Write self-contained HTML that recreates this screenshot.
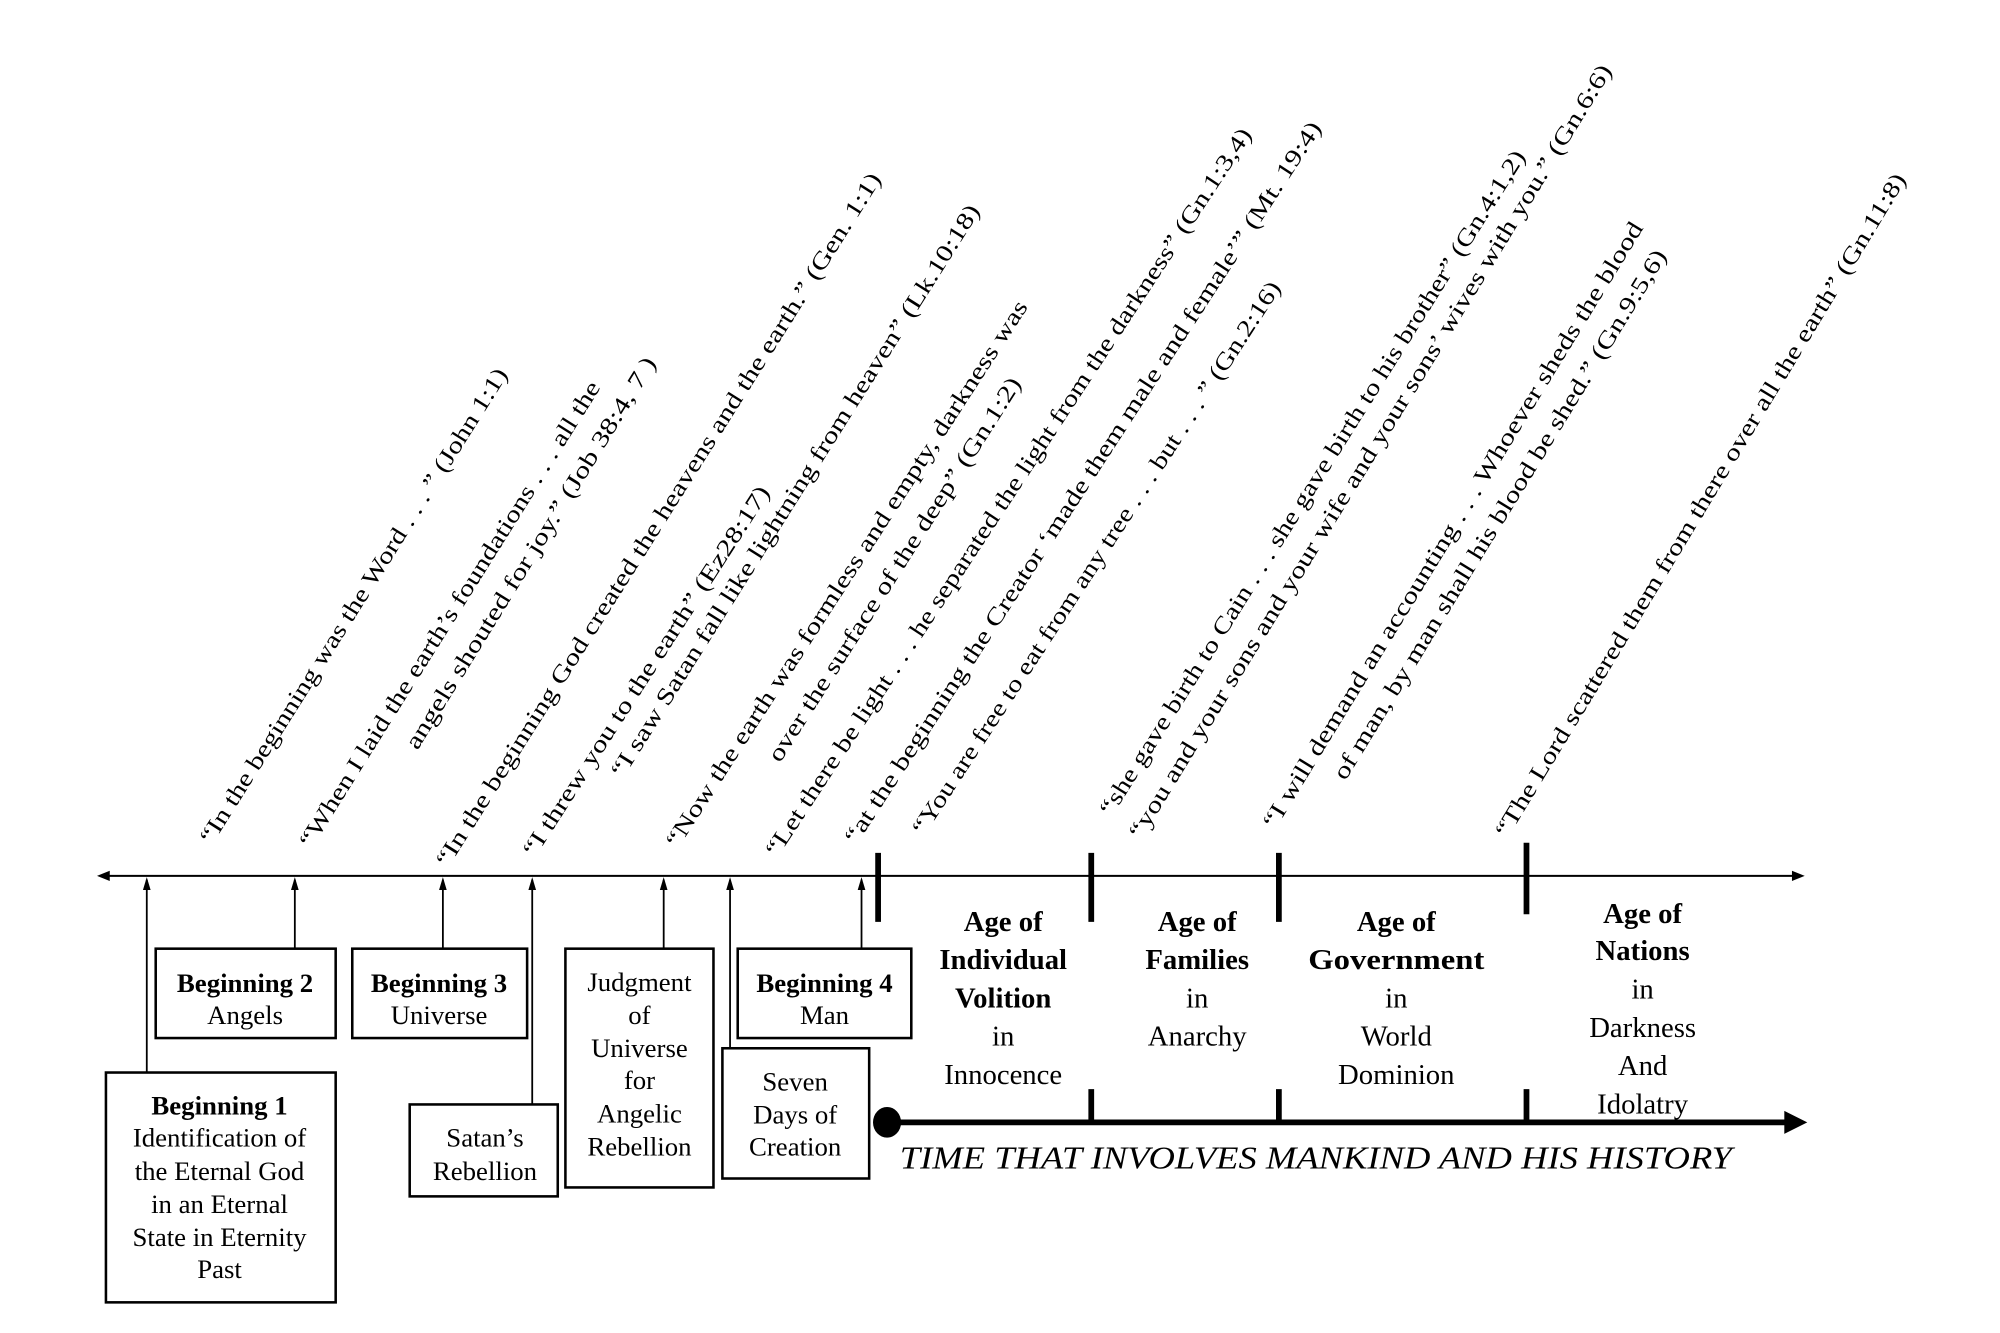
<!DOCTYPE html>
<html><head><meta charset="utf-8"><style>
html,body{margin:0;padding:0;background:#fff;}
svg{display:block;}
text{font-family:"Liberation Serif",serif;fill:#000;}
.q{font-size:18.5px;}
.b{font-size:21px;}
.a{font-size:22.5px;}
</style></head><body>
<svg width="2000" height="1333" viewBox="0 0 1567 1044" preserveAspectRatio="none" xmlns="http://www.w3.org/2000/svg">
<!-- main line -->
<line x1="80" y1="686" x2="1410" y2="686" stroke="#000" stroke-width="1.6"/>
<path d="M76,686 L86,682 L86,690 Z" fill="#000"/>
<path d="M1414,686 L1404,682 L1404,690 Z" fill="#000"/>
<!-- up arrows -->
<g stroke="#000" stroke-width="1.4" fill="none">
<line x1="115" y1="840" x2="115" y2="689"/>
<line x1="231" y1="743" x2="231" y2="689"/>
<line x1="347" y1="743" x2="347" y2="689"/>
<line x1="417" y1="865" x2="417" y2="689"/>
<line x1="520" y1="743" x2="520" y2="689"/>
<line x1="572" y1="821" x2="572" y2="689"/>
<line x1="675" y1="743" x2="675" y2="689"/>
</g>
<g fill="#000">
<path d="M115,687 L112,697 L118,697Z"/><path d="M231,687 L228,697 L234,697Z"/>
<path d="M347,687 L344,697 L350,697Z"/><path d="M417,687 L414,697 L420,697Z"/>
<path d="M520,687 L517,697 L523,697Z"/><path d="M572,687 L569,697 L575,697Z"/>
<path d="M675,687 L672,697 L678,697Z"/>
</g>
<!-- thick ticks -->
<g stroke="#000" stroke-width="4.5">
<line x1="688" y1="668" x2="688" y2="722"/>
<line x1="855" y1="668" x2="855" y2="722"/>
<line x1="1002" y1="668" x2="1002" y2="722"/>
<line x1="1196" y1="660" x2="1196" y2="716"/>
<line x1="855" y1="853" x2="855" y2="880"/>
<line x1="1002" y1="853" x2="1002" y2="880"/>
<line x1="1196" y1="853" x2="1196" y2="880"/>
</g>
<!-- bottom line -->
<line x1="694" y1="879" x2="1400" y2="879" stroke="#000" stroke-width="4.5"/>
<path d="M1416,879 L1398,870 L1398,888 Z" fill="#000"/>
<ellipse cx="695" cy="879" rx="11" ry="12" fill="#000"/>
<text x="705" y="915" style="font-size:25px;font-style:italic" textLength="652" lengthAdjust="spacingAndGlyphs">TIME THAT INVOLVES MANKIND AND HIS HISTORY</text>
<!-- boxes -->
<g fill="#fff" stroke="#000" stroke-width="2">
<rect x="122" y="743" width="141" height="70"/>
<rect x="276" y="743" width="137" height="70"/>
<rect x="83" y="840" width="180" height="180"/>
<rect x="321" y="865" width="116" height="72"/>
<rect x="443" y="743" width="116" height="187"/>
<rect x="578" y="743" width="136" height="70"/>
<rect x="566" y="821" width="115" height="102"/>
</g>
<g class="b" text-anchor="middle">
<text x="192" y="777" font-weight="bold">Beginning 2</text>
<text x="192" y="802">Angels</text>
<text x="344" y="777" font-weight="bold">Beginning 3</text>
<text x="344" y="802">Universe</text>
<text x="172" y="873" font-weight="bold">Beginning 1</text>
<text x="172" y="898">Identification of</text>
<text x="172" y="924">the Eternal God</text>
<text x="172" y="950">in an Eternal</text>
<text x="172" y="976">State in Eternity</text>
<text x="172" y="1001">Past</text>
<text x="380" y="898">Satan’s</text>
<text x="380" y="924">Rebellion</text>
<text x="501" y="776">Judgment</text>
<text x="501" y="802">of</text>
<text x="501" y="828">Universe</text>
<text x="501" y="853">for</text>
<text x="501" y="879">Angelic</text>
<text x="501" y="905">Rebellion</text>
<text x="646" y="777" font-weight="bold">Beginning 4</text>
<text x="646" y="802">Man</text>
<text x="623" y="854">Seven</text>
<text x="623" y="880">Days of</text>
<text x="623" y="905">Creation</text>
</g>
<!-- ages -->
<g class="a" text-anchor="middle">
<text x="786" y="729" font-weight="bold">Age of</text>
<text x="786" y="759" font-weight="bold">Individual</text>
<text x="786" y="789" font-weight="bold">Volition</text>
<text x="786" y="819">in</text>
<text x="786" y="849">Innocence</text>
<text x="938" y="729" font-weight="bold">Age of</text>
<text x="938" y="759" font-weight="bold">Families</text>
<text x="938" y="789">in</text>
<text x="938" y="819">Anarchy</text>
<text x="1094" y="729" font-weight="bold">Age of</text>
<text x="1094" y="759" font-weight="bold" textLength="138" lengthAdjust="spacingAndGlyphs">Government</text>
<text x="1094" y="789">in</text>
<text x="1094" y="819">World</text>
<text x="1094" y="849">Dominion</text>
<text x="1287" y="723" font-weight="bold">Age of</text>
<text x="1287" y="752" font-weight="bold">Nations</text>
<text x="1287" y="782">in</text>
<text x="1287" y="812">Darkness</text>
<text x="1287" y="842">And</text>
<text x="1287" y="872">Idolatry</text>
</g>
<!-- quotes -->
<g class="q">
<text transform="translate(166,662) rotate(-57.8)" textLength="436" lengthAdjust="spacingAndGlyphs">“In the beginning was the Word . . . ” (John 1:1)</text>
<text transform="translate(244,665) rotate(-57.9)" textLength="427" lengthAdjust="spacingAndGlyphs">“When I laid the earth’s foundations . . . all the</text>
<text transform="translate(327,588) rotate(-58.3)" textLength="357" lengthAdjust="spacingAndGlyphs">angels shouted for joy.” (Job 38:4, 7 )</text>
<text transform="translate(351,680) rotate(-57.8)" textLength="638" lengthAdjust="spacingAndGlyphs">“In the beginning God created the heavens and the earth.” (Gen. 1:1)</text>
<text transform="translate(419,672) rotate(-57.2)" textLength="341" lengthAdjust="spacingAndGlyphs">“I threw you to the earth” (Ez28:17)</text>
<text transform="translate(488,610) rotate(-57.8)" textLength="526" lengthAdjust="spacingAndGlyphs">“I saw Satan fall like lightning from heaven” (Lk.10:18)</text>
<text transform="translate(531,665) rotate(-57.1)" textLength="506" lengthAdjust="spacingAndGlyphs">“Now the earth was formless and empty, darkness was</text>
<text transform="translate(611,598) rotate(-57.5)" textLength="353" lengthAdjust="spacingAndGlyphs">over the surface of the deep” (Gn.1:2)</text>
<text transform="translate(609,672) rotate(-56.7)" textLength="678" lengthAdjust="spacingAndGlyphs">“Let there be light . . . he separated the light from the darkness” (Gn.1:3,4)</text>
<text transform="translate(671,662) rotate(-57)" textLength="670" lengthAdjust="spacingAndGlyphs">“at the beginning the Creator ‘made them male and female’” (Mt. 19:4)</text>
<text transform="translate(724,655) rotate(-56.9)" textLength="513" lengthAdjust="spacingAndGlyphs">“You are free to eat from any tree . . . but . . . ” (Gn.2:16)</text>
<text transform="translate(871,640) rotate(-57.9)" textLength="611" lengthAdjust="spacingAndGlyphs">“she gave birth to Cain . . . she gave birth to his brother” (Gn.4:1,2)</text>
<text transform="translate(894,658) rotate(-58.5)" textLength="707" lengthAdjust="spacingAndGlyphs">“you and your sons and your wife and your sons’ wives with you.” (Gn.6:6)</text>
<text transform="translate(999,650) rotate(-58.5)" textLength="553" lengthAdjust="spacingAndGlyphs">“I will demand an accounting . . . Whoever sheds the blood</text>
<text transform="translate(1054,612) rotate(-58.5)" textLength="483" lengthAdjust="spacingAndGlyphs">of man, by man shall his blood be shed.” (Gn.9:5,6)</text>
<text transform="translate(1181,657) rotate(-58.8)" textLength="604" lengthAdjust="spacingAndGlyphs">“The Lord scattered them from there over all the earth” (Gn.11:8)</text>
</g>
</svg>
</body></html>
